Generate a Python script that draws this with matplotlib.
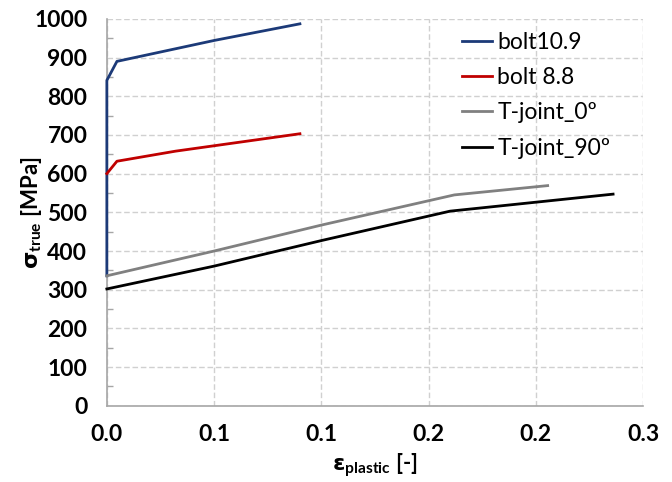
"""True stress vs plastic strain curves for bolts and T-joints"""

import matplotlib
matplotlib.use("Agg")
import matplotlib.pyplot as plt
from matplotlib.ticker import MultipleLocator

# plastic strain [-] and true stress [MPa] for each material
bolt109_eps = [0.0, 0.0, 0.0047, 0.05, 0.09]
bolt109_sig = [336, 841, 890, 944, 987]

bolt88_eps = [0.0, 0.0047, 0.032, 0.09]
bolt88_sig = [600, 632, 658, 703]

tjoint0_eps = [0.0, 0.05, 0.10, 0.162, 0.2055]
tjoint0_sig = [336, 400, 467, 545, 569]

tjoint90_eps = [0.0, 0.05, 0.10, 0.160, 0.236]
tjoint90_sig = [302, 361, 427, 503, 547]

series_names = ["bolt10.9", "bolt 8.8", "T-joint_0º", "T-joint_90º"]

x_ticks = [0.0, 0.05, 0.10, 0.15, 0.20, 0.25]
x_tick_labels = ["0.0", "0.1", "0.1", "0.2", "0.2", "0.3"]  # Excel style rounding
y_ticks = [0, 100, 200, 300, 400, 500, 600, 700, 800, 900, 1000]

plt.rcParams['font.family'] = ['Lato', 'DejaVu Sans']
plt.rcParams['mathtext.fontset'] = 'custom'
plt.rcParams['mathtext.rm'] = 'Lato:bold'
plt.rcParams['mathtext.bf'] = 'DejaVu Sans:bold'

fig = plt.figure(figsize=(6.72, 4.82), dpi=100)
ax = fig.add_axes([0.159, 0.158, 0.798, 0.803])

colors = ['#1c3a78', '#c00000', '#808080', 'black']
ax.plot(bolt109_eps, bolt109_sig, color=colors[0], lw=2, label=series_names[0],
        zorder=3, clip_on=False)
ax.plot(bolt88_eps, bolt88_sig, color=colors[1], lw=2, label=series_names[1],
        zorder=3, clip_on=False)
ax.plot(tjoint0_eps, tjoint0_sig, color=colors[2], lw=2, label=series_names[2],
        zorder=3, clip_on=False)
ax.plot(tjoint90_eps, tjoint90_sig, color=colors[3], lw=2, label=series_names[3],
        zorder=3, clip_on=False)

ax.set_xlim(0, 0.25)
ax.set_ylim(0, 1000)
ax.set_xticks(x_ticks)
ax.set_xticklabels(x_tick_labels)
ax.set_yticks(y_ticks)
ax.yaxis.set_minor_locator(MultipleLocator(50))

ax.grid(True, which='major', color='#d0d0d0', ls=(0, (4, 2)), lw=1)
ax.set_axisbelow(True)

for side in ['top', 'right']:
    ax.spines[side].set_visible(False)
for side in ['left', 'bottom']:
    ax.spines[side].set_color('#a6a6a6')
    ax.spines[side].set_linewidth(1.2)

ax.tick_params(axis='both', which='major', length=0, labelsize=16.5)
ax.tick_params(axis='x', pad=13)
ax.tick_params(axis='y', pad=14)
ax.tick_params(axis='y', which='minor', direction='in', length=4,
               color='#a6a6a6', width=1)
for lbl in ax.get_xticklabels() + ax.get_yticklabels():
    lbl.set_fontweight('bold')

ax.set_ylabel(r"$\mathbf{\sigma}_{\mathrm{true}}$ [MPa]", fontsize=16,
              fontweight='bold')
ax.yaxis.set_label_coords(-0.117, 0.5)
ax.set_xlabel(r"$\mathbf{\varepsilon}_{\mathrm{plastic}}$ [-]", fontsize=16,
              fontweight='bold')
ax.xaxis.set_label_coords(0.5, -0.118)

ax.legend(loc='upper left', bbox_to_anchor=(0.662, 0.966), frameon=False,
          fontsize=16.5, handlelength=1.3, handletextpad=0.25,
          labelspacing=0.62, borderaxespad=0, borderpad=0)

fig.savefig("out.png", dpi=100)
